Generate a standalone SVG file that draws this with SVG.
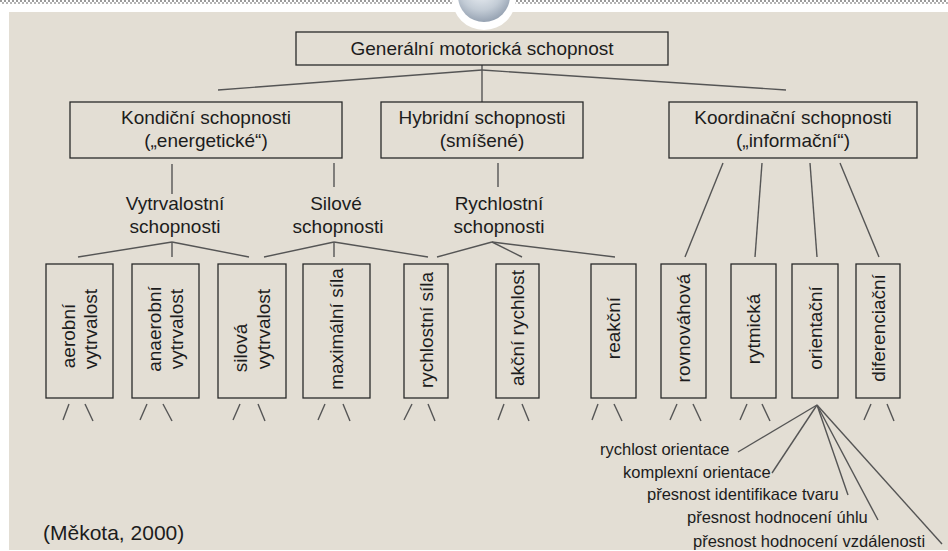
<svg xmlns="http://www.w3.org/2000/svg" width="948" height="551" viewBox="0 0 948 551">
<defs>
<pattern id="dots" width="4" height="4" patternUnits="userSpaceOnUse">
<rect width="4" height="4" fill="#ffffff"/>
<rect width="2" height="2" fill="#9a9a9a"/>
<rect x="2" y="2" width="2" height="2" fill="#b5b5b5"/>
</pattern>
<radialGradient id="glass" cx="0.45" cy="0.35" r="0.7">
<stop offset="0" stop-color="#f4f7fa"/>
<stop offset="0.6" stop-color="#c3ccd6"/>
<stop offset="1" stop-color="#8d9aab"/>
</radialGradient>
</defs>
<style>
.bg{fill:#e3ded4}
.box{fill:none;stroke:#2a2a2a;stroke-width:1.3}
.t{font-family:"Liberation Sans",Arial,sans-serif;font-size:19px;fill:#1c1c1c;text-anchor:middle}
.s{font-family:"Liberation Sans",Arial,sans-serif;font-size:16.5px;fill:#1c1c1c;text-anchor:start}
#connectors line{stroke:#555;stroke-width:1.4;fill:none}
</style>
<rect width="948" height="551" fill="#ffffff"/>
<rect x="0" y="0" width="948" height="4" fill="url(#dots)"/>
<rect class="bg" x="9" y="12" width="939" height="538"/>
<g id="medallion">
<circle cx="484" cy="-2" r="32" fill="#ffffff"/>
<circle cx="484" cy="-4" r="26" fill="url(#glass)"/>
</g>
<g id="connectors">
<line x1="482" y1="70" x2="218" y2="90"/>
<line x1="482" y1="70" x2="786" y2="90"/>
<line x1="482" y1="65" x2="482" y2="102"/>
<line x1="172" y1="164" x2="172" y2="194"/>
<line x1="334" y1="163" x2="334" y2="187"/>
<line x1="498" y1="163" x2="498" y2="187"/>
<line x1="172" y1="242" x2="78" y2="257"/>
<line x1="172" y1="242" x2="172" y2="257"/>
<line x1="172" y1="242" x2="249" y2="257"/>
<line x1="334" y1="242" x2="264" y2="257"/>
<line x1="334" y1="242" x2="334" y2="257"/>
<line x1="334" y1="242" x2="428" y2="257"/>
<line x1="492" y1="242" x2="437" y2="257"/>
<line x1="492" y1="242" x2="522" y2="257"/>
<line x1="492" y1="242" x2="615" y2="257"/>
<line x1="723" y1="163" x2="685" y2="257"/>
<line x1="762" y1="163" x2="755" y2="257"/>
<line x1="810" y1="163" x2="817" y2="257"/>
<line x1="840" y1="163" x2="879" y2="257"/>
<line x1="63" y1="420" x2="69" y2="404"/><line x1="85" y1="404" x2="93" y2="421"/>
<line x1="140" y1="420" x2="147" y2="404"/><line x1="163" y1="404" x2="172" y2="421"/>
<line x1="233" y1="420" x2="240" y2="404"/><line x1="258" y1="404" x2="265" y2="421"/>
<line x1="318" y1="420" x2="325" y2="404"/><line x1="343" y1="404" x2="350" y2="421"/>
<line x1="404" y1="420" x2="412" y2="404"/><line x1="428" y1="404" x2="435" y2="421"/>
<line x1="498" y1="420" x2="504" y2="404"/><line x1="522" y1="404" x2="529" y2="421"/>
<line x1="592" y1="420" x2="598" y2="404"/><line x1="614" y1="404" x2="622" y2="421"/>
<line x1="670" y1="420" x2="677" y2="404"/><line x1="693" y1="404" x2="701" y2="421"/>
<line x1="740" y1="420" x2="747" y2="404"/><line x1="762" y1="404" x2="770" y2="421"/>
<line x1="864" y1="420" x2="871" y2="404"/><line x1="887" y1="404" x2="894" y2="421"/>
<line x1="817" y1="405" x2="738" y2="452"/>
<line x1="817" y1="405" x2="772" y2="473"/>
<line x1="817" y1="405" x2="848" y2="495"/>
<line x1="817" y1="405" x2="878" y2="520"/>
<line x1="817" y1="405" x2="942" y2="544"/>
</g>
<g id="n-general"><rect class="box" x="296" y="32" width="372" height="33"/><text class="t" x="482" y="55">Generální motorická schopnost</text></g>
<g id="n-kondicni"><rect class="box" x="70" y="102" width="272" height="56"/><text class="t" x="206" y="124">Kondiční schopnosti</text><text class="t" x="206" y="147">(„energetické“)</text></g>
<g id="n-hybridni"><rect class="box" x="381" y="102" width="202" height="56"/><text class="t" x="482" y="124">Hybridní schopnosti</text><text class="t" x="482" y="147">(smíšené)</text></g>
<g id="n-koordinacni"><rect class="box" x="669" y="102" width="248" height="56"/><text class="t" x="793" y="124">Koordinační schopnosti</text><text class="t" x="793" y="147">(„informační“)</text></g>
<g id="n-vytrvalostni"><text class="t" x="175" y="210">Vytrvalostní</text><text class="t" x="175" y="233">schopnosti</text></g>
<g id="n-silove"><text class="t" x="336" y="210">Silové</text><text class="t" x="338" y="233">schopnosti</text></g>
<g id="n-rychlostni"><text class="t" x="499" y="210">Rychlostní</text><text class="t" x="499" y="233">schopnosti</text></g>
<g id="n-aerobni"><rect class="box" x="46" y="264" width="67" height="134"/><text class="t" transform="translate(75,336) rotate(-90)">aerobní</text><text class="t" transform="translate(97,329) rotate(-90)">vytrvalost</text></g>
<g id="n-anaerobni"><rect class="box" x="132" y="264" width="67" height="134"/><text class="t" transform="translate(161,329) rotate(-90)">anaerobní</text><text class="t" transform="translate(183,329) rotate(-90)">vytrvalost</text></g>
<g id="n-silova"><rect class="box" x="218" y="264" width="68" height="134"/><text class="t" transform="translate(247,348) rotate(-90)">silová</text><text class="t" transform="translate(270,329) rotate(-90)">vytrvalost</text></g>
<g id="n-maximalni"><rect class="box" x="303" y="264" width="67" height="134"/><text class="t" transform="translate(343,329) rotate(-90)">maximální síla</text></g>
<g id="n-rychlostni-sila"><rect class="box" x="404" y="264" width="44" height="134"/><text class="t" transform="translate(432.5,330) rotate(-90)">rychlostní síla</text></g>
<g id="n-akcni"><rect class="box" x="496" y="264" width="43" height="134"/><text class="t" transform="translate(524,328) rotate(-90)">akční rychlost</text></g>
<g id="n-reakcni"><rect class="box" x="591" y="264" width="45" height="134"/><text class="t" transform="translate(620,328) rotate(-90)">reakční</text></g>
<g id="n-rovnovahova"><rect class="box" x="661" y="264" width="45" height="134"/><text class="t" transform="translate(690,328) rotate(-90)">rovnováhová</text></g>
<g id="n-rytmicka"><rect class="box" x="731" y="264" width="45" height="134"/><text class="t" transform="translate(760,329) rotate(-90)">rytmická</text></g>
<g id="n-orientacni"><rect class="box" x="792" y="264" width="46" height="134"/><text class="t" transform="translate(821.5,328) rotate(-90)">orientační</text></g>
<g id="n-diferenciacni"><rect class="box" x="856" y="264" width="44" height="134"/><text class="t" transform="translate(884.5,328) rotate(-90)">diferenciační</text></g>
<g id="n-orient-labels">
<text class="s" x="600" y="455">rychlost orientace</text>
<text class="s" x="623" y="478">komplexní orientace</text>
<text class="s" x="647" y="500">přesnost identifikace tvaru</text>
<text class="s" x="687" y="523">přesnost hodnocení úhlu</text>
<text class="s" x="693" y="547">přesnost hodnocení vzdálenosti</text>
</g>
<g id="n-source"><text class="s" x="43" y="540" style="font-size:21px">(Měkota, 2000)</text></g>
</svg>
